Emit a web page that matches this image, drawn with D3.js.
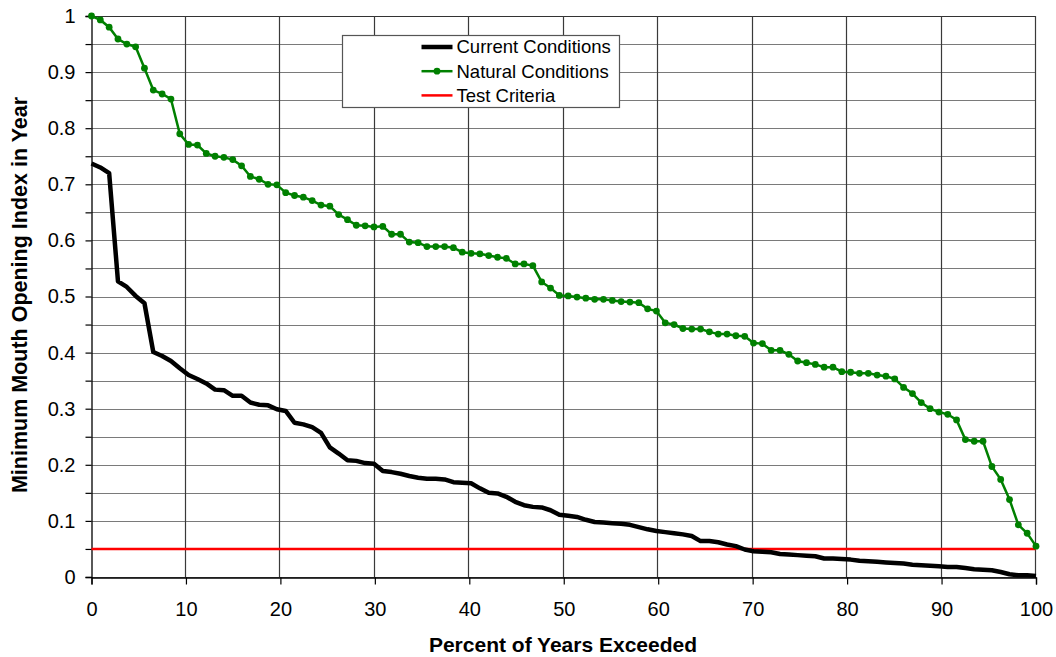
<!DOCTYPE html>
<html>
<head>
<meta charset="utf-8">
<script src="https://cdn.jsdelivr.net/npm/d3@7"></script>
<style>
  body { margin: 0; background: #fff; }
  svg { display: block; font-family: "Liberation Sans", Arial, sans-serif; }
</style>
</head>
<body>
<svg width="1056" height="657"></svg>
<script>
// Minimum mouth opening index, sorted high to low, one value per year (108 years)
var currentConditions = [
  0.737, 0.730, 0.720, 0.527, 0.517, 0.501, 0.488, 0.401, 0.394, 0.385,
  0.372, 0.360, 0.353, 0.345, 0.334, 0.333, 0.323, 0.323, 0.311, 0.307,
  0.306, 0.299, 0.296, 0.275, 0.272, 0.267, 0.257, 0.231, 0.220, 0.208,
  0.207, 0.203, 0.202, 0.189, 0.187, 0.184, 0.180, 0.177, 0.175, 0.175,
  0.174, 0.169, 0.168, 0.167, 0.158, 0.150, 0.149, 0.143, 0.134, 0.128,
  0.125, 0.124, 0.119, 0.111, 0.109, 0.107, 0.102, 0.098, 0.097, 0.096,
  0.095, 0.093, 0.089, 0.085, 0.082, 0.080, 0.078, 0.076, 0.073, 0.064,
  0.064, 0.062, 0.058, 0.055, 0.049, 0.046, 0.045, 0.044, 0.041, 0.040,
  0.039, 0.038, 0.037, 0.033, 0.033, 0.032, 0.031, 0.029, 0.028, 0.027,
  0.026, 0.025, 0.024, 0.022, 0.021, 0.020, 0.019, 0.018, 0.018, 0.016,
  0.014, 0.013, 0.012, 0.009, 0.005, 0.003, 0.003, 0.002
];

var naturalConditions = [
  1.000, 0.993, 0.980, 0.959, 0.950, 0.945, 0.907, 0.868, 0.861, 0.852,
  0.790, 0.771, 0.770, 0.755, 0.750, 0.748, 0.744, 0.733, 0.714, 0.709,
  0.700, 0.699, 0.685, 0.680, 0.677, 0.671, 0.663, 0.661, 0.646, 0.637,
  0.627, 0.626, 0.624, 0.625, 0.611, 0.611, 0.597, 0.596, 0.589, 0.589,
  0.589, 0.587, 0.579, 0.577, 0.576, 0.573, 0.570, 0.568, 0.558, 0.558,
  0.555, 0.526, 0.515, 0.502, 0.501, 0.499, 0.497, 0.495, 0.495, 0.493,
  0.491, 0.490, 0.489, 0.478, 0.474, 0.453, 0.450, 0.443, 0.442, 0.442,
  0.437, 0.433, 0.433, 0.430, 0.429, 0.417, 0.416, 0.404, 0.404, 0.397,
  0.385, 0.382, 0.379, 0.374, 0.374, 0.366, 0.365, 0.363, 0.363, 0.360,
  0.358, 0.353, 0.338, 0.327, 0.311, 0.300, 0.294, 0.290, 0.280, 0.245,
  0.242, 0.242, 0.197, 0.174, 0.138, 0.093, 0.078, 0.055
];

var testCriteria = 0.05;

var xTicks = [0, 10, 20, 30, 40, 50, 60, 70, 80, 90, 100];
var yTicks = [0, 0.1, 0.2, 0.3, 0.4, 0.5, 0.6, 0.7, 0.8, 0.9, 1];
var yGrid = [0, 0.05, 0.1, 0.15, 0.2, 0.25, 0.3, 0.35, 0.4, 0.45, 0.5,
             0.55, 0.6, 0.65, 0.7, 0.75, 0.8, 0.85, 0.9, 0.95, 1];

var legendItems = ["Current Conditions", "Natural Conditions", "Test Criteria"];

// percent of years exceeded comes from the rank of each sorted year
function percentExceeded(values) {
  return values.map(function(v, i) {
    return [i * 100 / (values.length - 1), v];
  });
}

function drawChart() {
  var svg = d3.select("svg"),
      plotLeft = 91.5, plotRight = 1036, plotTop = 16, plotBottom = 577;

  var x = d3.scaleLinear().domain([0, 100]).range([plotLeft, plotRight]);
  var y = d3.scaleLinear().domain([0, 1]).range([plotBottom, plotTop]);

  // grid
  svg.append("g")
    .selectAll("line")
    .data(yGrid)
    .enter().append("line")
    .attr("x1", plotLeft).attr("x2", plotRight)
    .attr("y1", function(d) { return Math.round(y(d)) + 0.5; })
    .attr("y2", function(d) { return Math.round(y(d)) + 0.5; })
    .style("stroke", function(d) { return d == 1 ? "#333" : "#7a7a7a"; })
    .style("stroke-width", 1.2);

  svg.append("g")
    .selectAll("line")
    .data(xTicks.slice(1))
    .enter().append("line")
    .attr("x1", function(d) { return Math.round(x(d)) - 0.5; })
    .attr("x2", function(d) { return Math.round(x(d)) - 0.5; })
    .attr("y1", plotTop).attr("y2", plotBottom)
    .style("stroke", "#3a3a3a")
    .style("stroke-width", 1.2);

  // axes
  var xAxis = svg.append("g")
    .attr("transform", "translate(0," + (plotBottom + 0.5) + ")")
    .call(d3.axisBottom(x).tickValues(xTicks).tickSize(7).tickPadding(17).tickFormat(d3.format("d")));

  var yAxis = svg.append("g")
    .attr("transform", "translate(" + plotLeft + ",0)")
    .call(d3.axisLeft(y).tickValues(yGrid).tickSize(6).tickPadding(10)
      .tickFormat(function(d) { return yTicks.indexOf(d) >= 0 ? d3.format("")(d) : ""; }));

  [xAxis, yAxis].forEach(function(a) {
    a.select(".domain").style("stroke", "#000").style("stroke-width", 1.3);
    a.selectAll(".tick line").style("stroke", "#000").style("stroke-width", 1.2);
    a.selectAll("text")
      .style("font-family", "'Liberation Sans', Arial, sans-serif")
      .style("font-size", "20px")
      .style("fill", "#000");
  });

  // axis titles
  svg.append("text")
    .attr("x", 563)
    .attr("y", 652)
    .attr("text-anchor", "middle")
    .style("font-size", "21px")
    .style("font-weight", "bold")
    .text("Percent of Years Exceeded");

  svg.append("text")
    .attr("transform", "translate(27,295) rotate(-90)")
    .attr("text-anchor", "middle")
    .style("font-size", "21.5px")
    .style("font-weight", "bold")
    .text("Minimum Mouth Opening Index in Year");

  // series
  var line = d3.line()
    .x(function(d) { return x(d[0]); })
    .y(function(d) { return y(d[1]); });

  svg.append("path")
    .datum([[0, testCriteria], [100, testCriteria]])
    .attr("d", line)
    .style("fill", "none")
    .style("stroke", "#ff0000")
    .style("stroke-width", 2.5);

  svg.append("path")
    .datum(percentExceeded(currentConditions))
    .attr("d", line)
    .style("fill", "none")
    .style("stroke", "#000")
    .style("stroke-width", 4.5)
    .style("stroke-linejoin", "round");

  var natural = percentExceeded(naturalConditions);

  svg.append("path")
    .datum(natural)
    .attr("d", line)
    .style("fill", "none")
    .style("stroke", "#008000")
    .style("stroke-width", 2.5);

  svg.append("g")
    .selectAll("circle")
    .data(natural)
    .enter().append("circle")
    .attr("cx", function(d) { return x(d[0]); })
    .attr("cy", function(d) { return y(d[1]); })
    .attr("r", 3.4)
    .style("fill", "#008000");

  // legend
  var legend = svg.append("g").attr("transform", "translate(342.5,35.5)");

  legend.append("rect")
    .attr("width", 277)
    .attr("height", 72)
    .style("fill", "#fff")
    .style("stroke", "#555")
    .style("stroke-width", 1.2);

  var rows = legend.selectAll("g.row")
    .data(legendItems)
    .enter().append("g")
    .attr("class", "row")
    .attr("transform", function(d, i) { return "translate(0," + (11.5 + i * 24.2) + ")"; });

  rows.append("line")
    .attr("x1", 79).attr("x2", 110)
    .style("stroke", function(d, i) { return ["#000", "#008000", "#ff0000"][i]; })
    .style("stroke-width", function(d, i) { return [4.5, 2.5, 2.5][i]; });

  rows.filter(function(d, i) { return i == 1; })
    .append("circle")
    .attr("cx", 94.5)
    .attr("r", 3.4)
    .style("fill", "#008000");

  rows.append("text")
    .attr("x", 114)
    .attr("dy", "0.35em")
    .style("font-size", "18.5px")
    .text(function(d) { return d; });
}

drawChart();
</script>
</body>
</html>
